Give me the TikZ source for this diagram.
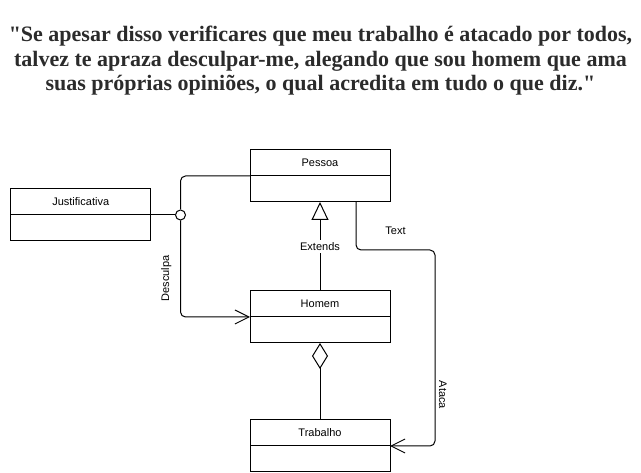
\documentclass[tikz,border=0pt]{standalone}
\usepackage{fontspec}
\setmainfont{Liberation Serif}[Ligatures=TeXOff]
\setsansfont{Liberation Sans}
\usetikzlibrary{arrows.meta,positioning}
\definecolor{quotegray}{HTML}{2B2B2B}
\tikzset{
classhead/.style={
  rectangle,
  draw,
  line width=1pt,
  outer sep=0pt,
  minimum width=140pt,
  minimum height=26pt,
  font=\sffamily\fontsize{11pt}{13pt}\selectfont},
classbody/.style={
  rectangle,
  draw,
  line width=1pt,
  outer sep=0pt,
  minimum width=140pt,
  minimum height=26pt},
lbl/.style={font=\sffamily\fontsize{11pt}{13pt}\selectfont, inner sep=2pt},
quote/.style={
  align=center,
  text=quotegray,
  font=\bfseries\fontsize{22pt}{24.5pt}\selectfont},
line/.style={draw, line width=1pt},
assoc/.style={line, -{Straight Barb[length=14pt,width=14pt]}},
extends/.style={line, -{Triangle[open, length=18pt, width=17pt, fill=white]}},
aggregation/.style={line, {Diamond[open, length=26pt, width=16pt, fill=white]}-},
iface/.style={
  circle,
  draw,
  line width=1pt,
  fill=white,
  minimum size=10pt,
  inner sep=0pt}
}
\begin{document}
\begin{tikzpicture}[x=1pt,y=-1pt]
    \useasboundingbox (0,0) rectangle (641,473);
    \node [quote] (citacao) at (320.5,61) {"Se apesar disso verificares que meu trabalho é atacado por todos,\\talvez te apraza desculpar-me, alegando que sou homem que ama\\suas próprias opiniões, o qual acredita em tudo o que diz."};
    \node [classhead] (pessoa) at (320,163) {Pessoa};
    \node [classbody, below=0pt of pessoa] (pessoab) {};
    \node [classhead, below=89pt of pessoab] (homem) {Homem};
    \node [classbody, below=0pt of homem] (homemb) {};
    \node [classhead, below=77pt of homemb] (trabalho) {Trabalho};
    \node [classbody, below=0pt of trabalho] (trabalhob) {};
    \node [classhead] (just) at (80.7,202) {Justificativa};
    \node [classbody, below=0pt of just] (justb) {};
    \node [iface] (circ) at (180.5,215) {};
    \coordinate (bend) at (435,250);
    \path [line] (justb.north east) -- (circ);
    \path [line, rounded corners=5pt] (circ) |- (pessoab.north west);
    \path [assoc, rounded corners=5pt] (circ) |- node[lbl, pos=0.3, rotate=90, anchor=south, outer sep=7pt] {Desculpa} (homemb.north west);
    \path [extends] (homem) -- node[lbl, fill=white] {Extends} (pessoab);
    \path [aggregation] (homemb) -- (trabalho);
    \path [assoc, rounded corners=5pt] ([xshift=36pt]pessoab.south) |- node[lbl, pos=0.75, above=13pt] {Text} (bend) |- node[lbl, pos=0.37, rotate=-90, anchor=south, outer sep=2pt] {Ataca} (trabalhob.north east);
\end{tikzpicture}
\end{document}
